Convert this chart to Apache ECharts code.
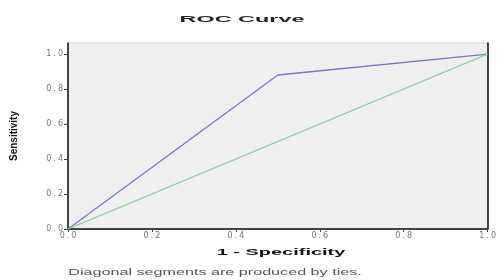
<!DOCTYPE html>
<html>
<head>
<meta charset="utf-8">
<script src="https://cdn.jsdelivr.net/npm/echarts@6/dist/echarts.min.js"></script>
<style>
    html, body { margin: 0; padding: 0; background: #fff; }
    #chart { width: 499px; height: 280px; }
</style>
</head>
<body>
<div id="chart"></div>
<script>
// ROC points (1 - specificity, sensitivity)
const rocX = [0.0, 0.5, 1.0];
const rocY = [0.0, 0.88, 1.0];
// reference diagonal
const refX = [0.0, 1.0];
const refY = [0.0, 1.0];
const tickValues = [0, 0.2, 0.4, 0.6, 0.8, 1.0];

const chart = echarts.init(document.getElementById('chart'));

const font = '"Liberation Sans", Arial, sans-serif';
// the original picture is stretched sideways, so spread the tick labels a bit
const spread = s => s.split('').join('\u2005');

chart.setOption({
    animation: false,
    graphic: [{
        // title
        type: 'text',
        x: 242, y: 20,
        scaleX: 2.6,
        style: {
            text: 'ROC Curve',
            font: 'bold 9px ' + font,
            fill: '#222',
            align: 'center',
            verticalAlign: 'middle'
        }
    }, {
        // x axis name
        type: 'text',
        x: 281, y: 252,
        scaleX: 2.1,
        style: {
            text: '1 - Specificity',
            font: 'bold 9.5px ' + font,
            fill: '#111',
            align: 'center',
            verticalAlign: 'middle'
        }
    }, {
        // footnote
        type: 'text',
        x: 215, y: 272,
        scaleX: 1.7,
        style: {
            text: 'Diagonal segments are produced by ties.',
            font: '9.5px ' + font,
            fill: '#555',
            align: 'center',
            verticalAlign: 'middle'
        }
    }],
    grid: {
        left: 68,
        right: 6,
        top: 43,
        bottom: 51,
        show: true,
        backgroundColor: '#efefef',
        borderColor: '#cfcfcf',
        borderWidth: 1
    },
    xAxis: {
        type: 'value',
        min: 0,
        max: 1,
        interval: 0.2,
        axisLine: { lineStyle: { color: '#111', width: 1.5 } },
        axisTick: { show: true, length: 3, lineStyle: { color: '#444' } },
        axisLabel: {
            fontFamily: '"DejaVu Sans", sans-serif', fontSize: 8, color: '#777', margin: 3,
            formatter: v => spread(v.toFixed(1))
        },
        splitLine: { show: false }
    },
    yAxis: [{
        type: 'value',
        min: 0,
        max: 1.063,
        name: 'Sensitivity',
        nameLocation: 'middle',
        nameGap: 49,
        nameTextStyle: { fontFamily: '"Liberation Sans Narrow", ' + font, fontSize: 10, fontWeight: 'bold', color: '#111' },
        axisLine: { show: true, lineStyle: { color: '#111', width: 1.5 } },
        axisTick: { show: true, length: 4, customValues: tickValues, lineStyle: { color: '#444' } },
        axisLabel: {
            fontFamily: '"DejaVu Sans", sans-serif', fontSize: 8, color: '#777', margin: 5,
            customValues: tickValues,
            formatter: v => spread(v.toFixed(1))
        },
        splitLine: { show: false }
    }, {
        type: 'value',
        position: 'right',
        min: 0,
        max: 1.063,
        axisLine: { show: true, lineStyle: { color: '#111', width: 1.5 } },
        axisTick: { show: false },
        axisLabel: { show: false },
        splitLine: { show: false }
    }],
    series: [{
        type: 'line',
        data: rocX.map((x, i) => [x, rocY[i]]),
        symbol: 'none',
        lineStyle: { color: '#7a78c4', width: 1.3 }
    }, {
        type: 'line',
        data: refX.map((x, i) => [x, refY[i]]),
        symbol: 'none',
        lineStyle: { color: '#86c99c', width: 1.3 }
    }]
});
</script>
</body>
</html>
